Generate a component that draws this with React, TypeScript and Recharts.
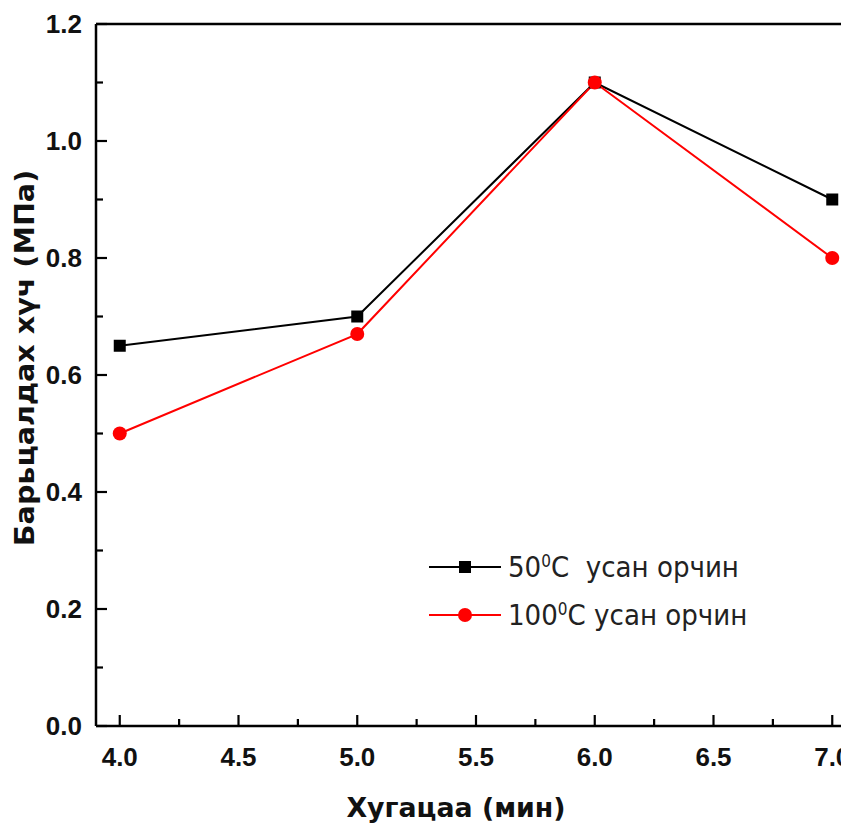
import React from "react";
import { LineChart, Line, XAxis, YAxis, ReferenceLine } from "recharts";

const times = [4.0, 5.0, 6.0, 7.0];
const strength50 = [0.65, 0.7, 1.1, 0.9];
const strength100 = [0.5, 0.67, 1.1, 0.8];

const xTicks = [4.0, 4.25, 4.5, 4.75, 5.0, 5.25, 5.5, 5.75, 6.0, 6.25, 6.5, 6.75, 7.0];
const yTicks = [0, 0.1, 0.2, 0.3, 0.4, 0.5, 0.6, 0.7, 0.8, 0.9, 1.0, 1.1, 1.2];

const legendItems = [
  { key: "a", base: "50", color: "#000", square: true },
  { key: "b", base: "100", color: "#ff0000", square: false },
];

const data = times.map((t, i) => ({ t, a: strength50[i], b: strength100[i] }));

const tickFont = "'Liberation Sans', Arial, sans-serif";
const titleFont = "'DejaVu Sans', Verdana, sans-serif";

const isMajor = (v: number, step: number) =>
  Math.abs(v / step - Math.round(v / step)) < 1e-6;

function XTick(props: any) {
  const { x, y, payload } = props;
  const major = isMajor(payload.value, 0.5);
  return (
    <g>
      <line x1={x} x2={x} y1={y} y2={y - (major ? 11 : 7)} stroke="#000" strokeWidth={2.2} />
      {major && (
        <text
          x={x}
          y={y + 40}
          textAnchor="middle"
          fontFamily={tickFont}
          fontWeight="bold"
          fontSize={26}
          fill="#111"
        >
          {payload.value.toFixed(1)}
        </text>
      )}
    </g>
  );
}

function YTick(props: any) {
  const { x, y, payload } = props;
  const major = isMajor(payload.value, 0.2);
  return (
    <g>
      <line x1={x} x2={x + (major ? 11 : 7)} y1={y} y2={y} stroke="#000" strokeWidth={2.2} />
      {major && (
        <text
          x={x - 14}
          y={y + 9}
          textAnchor="end"
          fontFamily={tickFont}
          fontWeight="bold"
          fontSize={26}
          fill="#111"
        >
          {payload.value.toFixed(1)}
        </text>
      )}
    </g>
  );
}

function Square(props: any) {
  const { cx, cy } = props;
  return <rect x={cx - 6} y={cy - 6} width={12} height={12} fill="#000" />;
}

function Dot(props: any) {
  const { cx, cy } = props;
  return <circle cx={cx} cy={cy} r={7} fill="#ff0000" />;
}

export default function App() {
  return (
    <div
      style={{
        margin: -8,
        width: 849,
        height: 831,
        overflow: "hidden",
        background: "#fff",
        position: "relative",
      }}
    >
      <LineChart
        width={870}
        height={831}
        data={data}
        margin={{ top: 24, right: 14, bottom: 0, left: 0 }}
      >
        <XAxis
          dataKey="t"
          type="number"
          domain={[3.9, 7.1]}
          ticks={xTicks}
          interval={0}
          tickSize={0}
          tickMargin={0}
          tickLine={false}
          tick={<XTick />}
          axisLine={{ stroke: "#000", strokeWidth: 2.5 }}
          height={105}
        />
        <YAxis
          type="number"
          domain={[0, 1.2]}
          ticks={yTicks}
          interval={0}
          tickSize={0}
          tickMargin={0}
          tickLine={false}
          tick={<YTick />}
          axisLine={{ stroke: "#000", strokeWidth: 2.5 }}
          width={96}
        />
        <ReferenceLine y={1.2} stroke="#000" strokeWidth={2.5} />
        <ReferenceLine x={7.1} stroke="#000" strokeWidth={2.5} />
        <Line
          dataKey="a"
          stroke="#000"
          strokeWidth={2}
          dot={<Square />}
          activeDot={false}
          isAnimationActive={false}
        />
        <Line
          dataKey="b"
          stroke="#ff0000"
          strokeWidth={2}
          dot={<Dot />}
          activeDot={false}
          isAnimationActive={false}
        />
      </LineChart>

      {/* легенд */}
      <div style={{ position: "absolute", left: 428, top: 543 }}>
        {legendItems.map((s) => (
          <div key={s.key} style={{ display: "flex", alignItems: "center", height: 48 }}>
            <svg width={74} height={20}>
              <line x1={1} x2={73} y1={10} y2={10} stroke={s.color} strokeWidth={2} />
              {s.square ? (
                <rect x={31} y={4} width={12} height={12} fill={s.color} />
              ) : (
                <circle cx={37} cy={10} r={7} fill={s.color} />
              )}
            </svg>
            <span
              style={{
                marginLeft: 6,
                fontFamily: "'DejaVu Sans', Tahoma, sans-serif",
                fontSize: 29,
                color: "#222",
                whiteSpace: "nowrap",
                transform: "scaleX(0.9)",
                transformOrigin: "left center",
                display: "inline-block",
              }}
            >
              {s.base}
              <sup style={{ fontSize: 17, verticalAlign: "10px" }}>0</sup>C
              {s.square ? "\u00a0" : ""} усан орчин
            </span>
          </div>
        ))}
      </div>

      <div
        style={{
          position: "absolute",
          left: 456,
          top: 808,
          transform: "translate(-50%, -50%) scaleX(1.03)",
          fontFamily: titleFont,
          fontWeight: "bold",
          fontSize: 26,
          color: "#111",
          whiteSpace: "nowrap",
        }}
      >
        Хугацаа (мин)
      </div>
      <div
        style={{
          position: "absolute",
          left: 25,
          top: 358,
          transform: "translate(-50%, -50%) rotate(-90deg) scaleX(1.1)",
          fontFamily: titleFont,
          fontWeight: "bold",
          fontSize: 26,
          color: "#111",
          whiteSpace: "nowrap",
        }}
      >
        Барьцалдах хүч (МПа)
      </div>
    </div>
  );
}
